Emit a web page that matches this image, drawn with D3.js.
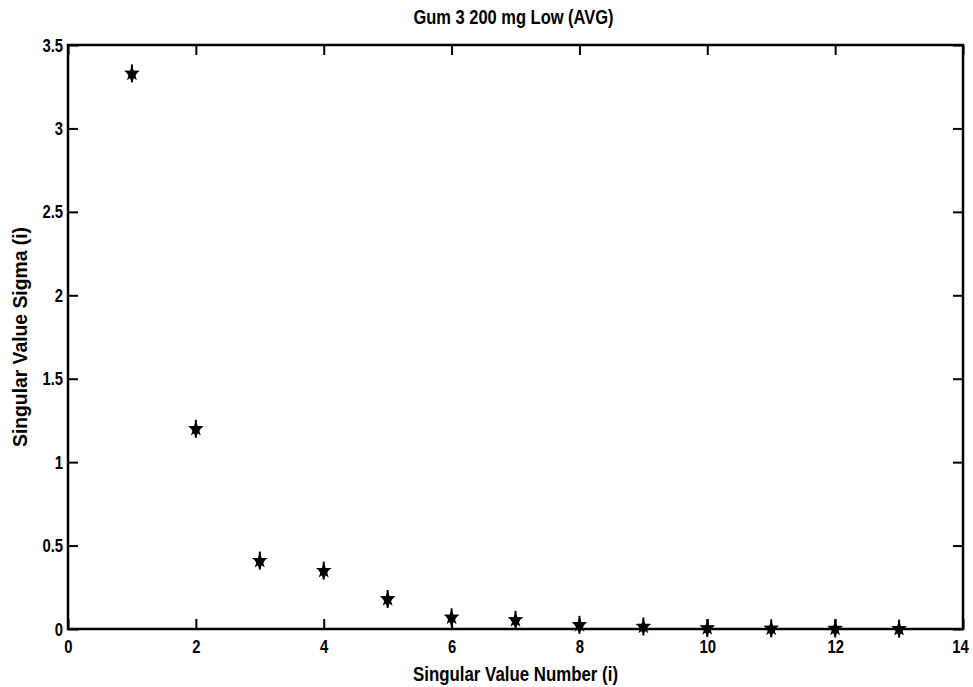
<!DOCTYPE html>
<html>
<head>
<meta charset="utf-8">
<script src="https://cdn.jsdelivr.net/npm/d3@7"></script>
<style>
  body { margin: 0; background: #fff; }
  text { font-family: "Liberation Sans", Arial, sans-serif; font-weight: bold; fill: #000; }
</style>
</head>
<body>
<div id="chart"></div>
<script>
// singular values
const indices = [1, 2, 3, 4, 5, 6, 7, 8, 9, 10, 11, 12, 13];
const sigma = [3.33, 1.20, 0.41, 0.35, 0.18, 0.07, 0.055, 0.025, 0.015, 0.006, 0.004, 0.003, 0.002];
const xTicks = [0, 2, 4, 6, 8, 10, 12, 14];
const yTicks = [0, 0.5, 1, 1.5, 2, 2.5, 3, 3.5];
const title = "Gum 3 200 mg Low (AVG)";
const xLabel = "Singular Value Number (i)";
const yLabel = "Singular Value Sigma (i)";

const width = 973, height = 687;
const margin = {top: 45, right: 10, bottom: 58, left: 68};
const w = width - margin.left - margin.right;
const h = height - margin.top - margin.bottom;

const svg = d3.select("#chart").append("svg")
    .attr("width", width)
    .attr("height", height);

const g = svg.append("g")
    .attr("transform", `translate(${margin.left},${margin.top})`);

const x = d3.scaleLinear().domain([0, 14]).range([0, w]);
const y = d3.scaleLinear().domain([0, 3.5]).range([h, 0]);

const tickLen = 10;

// squeeze text horizontally to mimic the narrow bold font
function narrow(sel, k) {
    sel.each(function() {
        const len = this.getComputedTextLength();
        if (len > 0) d3.select(this).attr("textLength", len * k).attr("lengthAdjust", "spacingAndGlyphs");
    });
}

// bottom axis labels + inward ticks
const xAxisG = g.append("g")
    .attr("transform", `translate(0,${h})`)
    .call(d3.axisBottom(x).tickValues(xTicks).tickFormat(d3.format("d")).tickSize(-tickLen).tickPadding(11))
    .call(a => a.select(".domain").remove());

// left axis
g.append("g")
    .call(d3.axisLeft(y).tickValues(yTicks).tickFormat(d => d).tickSize(-tickLen).tickPadding(5))
    .call(a => a.select(".domain").remove());

// top and right ticks
g.append("g")
    .call(d3.axisTop(x).tickValues(xTicks).tickFormat("").tickSize(-tickLen))
    .call(a => a.select(".domain").remove());
g.append("g")
    .attr("transform", `translate(${w},0)`)
    .call(d3.axisRight(y).tickValues(yTicks).tickFormat("").tickSize(-tickLen))
    .call(a => a.select(".domain").remove());

g.selectAll(".tick line").attr("stroke", "#000").attr("stroke-width", 2);
g.selectAll(".tick text").style("font-size", "19px").call(narrow, 0.78);

// keep the last x label inside the page
xAxisG.selectAll(".tick text").filter(d => d === 14).attr("dx", -3);

// frame
g.append("rect")
    .attr("width", w)
    .attr("height", h)
    .attr("fill", "none")
    .attr("stroke", "#000")
    .attr("stroke-width", 2.5);

// markers: star over a down triangle
const star = d3.symbol().type(d3.symbolStar).size(80);
const tri = d3.symbol().type(d3.symbolTriangle).size(70);

const pts = g.selectAll("g.pt")
    .data(indices.map((d, i) => ({i: d, s: sigma[i]})))
    .enter().append("g")
    .attr("class", "pt")
    .attr("transform", d => `translate(${x(d.i)},${y(d.s)})`);

pts.append("path").attr("d", tri).attr("transform", "rotate(180) translate(0,-1)").attr("fill", "#000");
pts.append("path").attr("d", star).attr("fill", "#000");
pts.append("line").attr("y1", -9).attr("y2", 9).attr("stroke", "#000").attr("stroke-width", 2);

// titles
svg.append("text")
    .attr("x", margin.left + w / 2 - 2)
    .attr("y", 24)
    .attr("text-anchor", "middle")
    .style("font-size", "20px")
    .text(title)
    .attr("textLength", 200)
    .attr("lengthAdjust", "spacingAndGlyphs");

svg.append("text")
    .attr("x", margin.left + w / 2)
    .attr("y", 681)
    .attr("text-anchor", "middle")
    .style("font-size", "20px")
    .text(xLabel)
    .attr("textLength", 205)
    .attr("lengthAdjust", "spacingAndGlyphs");

svg.append("text")
    .attr("transform", `translate(27,${margin.top + h / 2}) rotate(-90)`)
    .attr("text-anchor", "middle")
    .style("font-size", "20px")
    .text(yLabel)
    .attr("textLength", 220)
    .attr("lengthAdjust", "spacingAndGlyphs");
</script>
</body>
</html>
